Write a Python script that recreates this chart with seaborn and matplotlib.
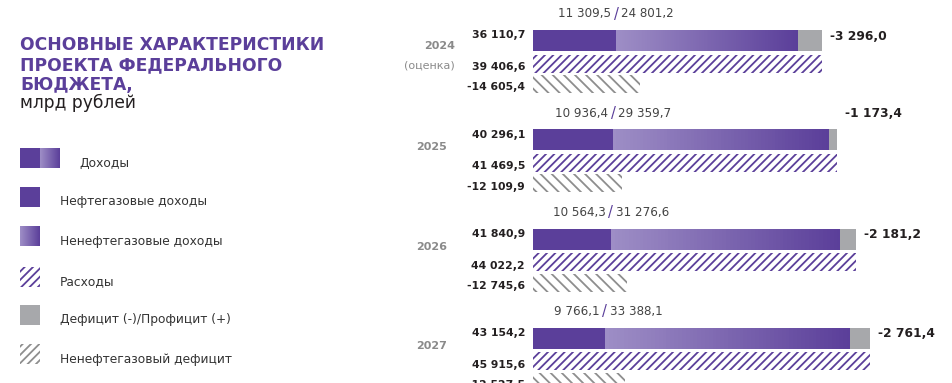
import numpy as np
import pandas as pd
import seaborn as sns
import matplotlib.pyplot as plt
from matplotlib.patches import Rectangle
from matplotlib.colors import LinearSegmentedColormap
from matplotlib.transforms import offset_copy

# data, млрд рублей
years = ["2024", "2025", "2026", "2027"]
year_notes = ["(оценка)", "", "", ""]
oil_gas_revenue = [11309.5, 10936.4, 10564.3, 9766.1]
non_oil_gas_revenue = [24801.2, 29359.7, 31276.6, 33388.1]
revenue = [36110.7, 40296.1, 41840.9, 43154.2]
expenses = [39406.6, 41469.5, 44022.2, 45915.6]
balance = [-3296.0, -1173.4, -2181.2, -2761.4]
non_oil_gas_deficit = [-14605.4, -12109.9, -12745.6, -12527.5]

legend_labels = ["Доходы", "Нефтегазовые доходы", "Ненефтегазовые доходы",
                 "Расходы", "Дефицит (-)/Профицит (+)", "Ненефтегазовый дефицит"]

df = pd.DataFrame({"year": years, "note": year_notes, "oil": oil_gas_revenue,
                   "non_oil": non_oil_gas_revenue, "rev": revenue, "exp": expenses,
                   "bal": balance, "nog": non_oil_gas_deficit})

PURPLE = "#5b3f9a"
LIGHT = "#9e8ec6"
GREY = "#a7a8ab"
HGREY = "#8e8e8e"
TXT = "#231f20"
grad_cmap = LinearSegmentedColormap.from_list("rev", [LIGHT, PURPLE])

sns.set_theme(style="white")
plt.rcParams["font.family"] = ["DejaVu Sans"]
plt.rcParams["hatch.linewidth"] = 1.3


def fmt(v):
    s = f"{abs(v):,.1f}".replace(",", " ").replace(".", ",")
    return ("-" if v < 0 else "") + s


W, H = 952, 383
fig = plt.figure(figsize=(W / 100, H / 100), dpi=100)
fig.patch.set_facecolor("white")

# ---- left panel: title + legend (pixel coordinates)
lax = fig.add_axes([0, 0, 1, 1])
lax.axis("off")

for i, line in enumerate(["ОСНОВНЫЕ ХАРАКТЕРИСТИКИ", "ПРОЕКТА ФЕДЕРАЛЬНОГО", "БЮДЖЕТА,"]):
    lax.text(20, 45 + i * 20, line, color=PURPLE, fontsize=12.3, fontweight="heavy",
             va="center", ha="left")
lax.text(20, 103, "млрд рублей", color=TXT, fontsize=12.3, va="center", ha="left")

grad = np.linspace(0, 1, 64).reshape(1, -1)
sw_tops = [148, 187, 226, 267, 305, 344]
# Доходы: dark half + gradient half
lax.add_patch(Rectangle((20, sw_tops[0]), 20, 20, color=PURPLE, lw=0))
lax.imshow(grad, extent=[40, 60, sw_tops[0] + 20, sw_tops[0]], cmap=grad_cmap, aspect="auto")
lax.add_patch(Rectangle((20, sw_tops[1]), 20, 20, color=PURPLE, lw=0))
lax.imshow(grad, extent=[20, 40, sw_tops[2] + 20, sw_tops[2]], cmap=grad_cmap, aspect="auto")
lax.add_patch(Rectangle((20, sw_tops[3]), 20, 20, facecolor="white", edgecolor=PURPLE,
                        hatch="////", lw=0))
lax.add_patch(Rectangle((20, sw_tops[4]), 20, 20, color=GREY, lw=0))
lax.add_patch(Rectangle((20, sw_tops[5]), 20, 20, facecolor="white", edgecolor=HGREY,
                        hatch="////", lw=0))
lax.set_xlim(0, W)
lax.set_ylim(H, 0)
for i, lab in enumerate(legend_labels):
    x = 79 if i == 0 else 60
    lax.text(x, sw_tops[i] + 15, lab, color="#333333", fontsize=8.8, va="center", ha="left")

# ---- main bars
ax = fig.add_axes([533 / W, 0, (W - 533) / W, 1])
ax.axis("off")
xmax = (W - 533) / 0.00734

step = 99.3
for i, r in df.iterrows():
    top = 30 + i * step
    # revenue: oil part solid, non-oil part gradient
    ax.barh(top + 10.5, r.oil, height=21, color=PURPLE, lw=0, zorder=2)
    ax.imshow(grad, extent=[r.oil, r.rev, top + 21, top], cmap=grad_cmap,
              aspect="auto", zorder=2)
    # deficit (-)/surplus (+)
    ax.barh(top + 10.5, r.exp - r.rev, left=r.rev, height=21, color=GREY, lw=0, zorder=2)
    # expenses
    ax.barh(top + 33.5, r.exp, height=18, facecolor="white", edgecolor=PURPLE,
            hatch="////", lw=0, zorder=2)
    # non-oil-gas deficit
    ax.barh(top + 54, -r.nog, height=18, facecolor="white", edgecolor=HGREY,
            hatch="\\\\\\", lw=0, zorder=2)

    left_t = offset_copy(ax.transData, fig=fig, x=-8, y=0, units="dots")
    ax.text(0, top + 5.5, fmt(r.rev), transform=left_t, ha="right", va="center",
            fontsize=7.8, fontweight="bold", color=TXT)
    ax.text(0, top + 37, fmt(r.exp), transform=left_t, ha="right", va="center",
            fontsize=7.8, fontweight="bold", color=TXT)
    ax.text(0, top + 57.5, fmt(r.nog), transform=left_t, ha="right", va="center",
            fontsize=7.8, fontweight="bold", color=TXT)

    if r.note:
        yr_t = offset_copy(ax.transData, fig=fig, x=-78, y=0, units="dots")
        ax.text(0, top + 16, r.year, transform=yr_t, ha="right", va="center",
                fontsize=8, fontweight="bold", color="#8a8a8a")
        ax.text(0, top + 36, r.note, transform=yr_t, ha="right", va="center",
                fontsize=8, color="#8a8a8a")
    else:
        yr_t = offset_copy(ax.transData, fig=fig, x=-86, y=0, units="dots")
        ax.text(0, top + 18, r.year, transform=yr_t, ha="right", va="center",
                fontsize=8, fontweight="bold", color="#8a8a8a")

    # oil / non-oil split label above the bar
    ly = top - 16
    ax.text(r.oil, ly, fmt(r.oil), transform=offset_copy(ax.transData, fig=fig, x=-5, units="dots"),
            ha="right", va="center", fontsize=8.6, color="#444444")
    ax.text(r.oil, ly, "/", ha="center", va="center", fontsize=10.5, color=PURPLE)
    ax.text(r.oil, ly, fmt(r.non_oil), transform=offset_copy(ax.transData, fig=fig, x=5, units="dots"),
            ha="left", va="center", fontsize=8.6, color="#444444")

    # balance label
    bx = max(r.rev, r.exp)
    by = ly + 0.5 if abs(r.bal) < 1500 else top + 6
    ax.text(bx, by, fmt(r.bal), transform=offset_copy(ax.transData, fig=fig, x=8, units="dots"),
            ha="left", va="center", fontsize=8.8, fontweight="bold", color=TXT)

ax.set_xlim(0, xmax)
ax.set_ylim(H, 0)

fig.savefig("out.png", dpi=100, facecolor="white")
